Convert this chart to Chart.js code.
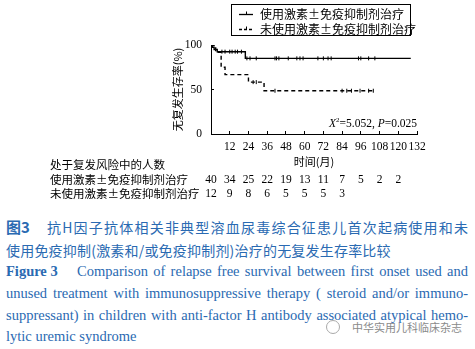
<!DOCTYPE html>
<html>
<head>
<meta charset="utf-8">
<script src="https://cdn.jsdelivr.net/npm/chart.js@4.4.0/dist/chart.umd.min.js"></script>
<style>
  body { margin: 0; width: 475px; height: 349px; background: #fff; overflow: hidden; position: relative; }
  #wrap { position: absolute; left: 0; top: 0; width: 475px; height: 205px; }
  .ln { position: absolute; height: 22px; line-height: 22px; white-space: nowrap; color: #2a6ab2; }
  .zh { font-family: "Noto Sans CJK SC", sans-serif; font-size: 14px; }
  .en { font-family: "Liberation Serif", serif; font-size: 14.5px; }
  .just { text-align: justify; text-align-last: justify; }
  .b { font-weight: bold; }
  .wm { position: absolute; left: 326px; top: 318px; font-family: "Noto Sans CJK SC", sans-serif; font-size: 11px; color: #8a8a8a; line-height: 18px; }
  .wm i { display: inline-block; width: 12px; height: 12px; border: 1px solid #aaa; border-radius: 50%; vertical-align: -2px; margin-right: 12px; }
</style>
</head>
<body>
<div id="wrap"><canvas id="grafico-km" width="475" height="205"></canvas></div>

<div class="ln zh b" style="left:6px;top:216px;font-size:15px;">图3</div>
<div class="ln zh just" style="left:47px;top:216px;width:421px;">抗H因子抗体相关非典型溶血尿毒综合征患儿首次起病使用和未</div>
<div class="ln zh" style="left:6px;top:239px;letter-spacing:0.2px;">使用免疫抑制(激素和/或免疫抑制剂)治疗的无复发生存率比较</div>
<div class="ln en b" style="left:6px;top:260px;">Figure 3</div>
<div class="ln en just" style="left:77px;top:260px;width:391px;">Comparison of relapse free survival between first onset used and</div>
<div class="ln en just" style="left:6px;top:282px;width:462px;">unused treatment with immunosuppressive therapy ( steroid and/or immuno-</div>
<div class="ln en just" style="left:6px;top:304px;width:462px;">suppressant) in children with anti-factor H antibody associated atypical hemo-</div>
<div class="ln en" style="left:6px;top:325px;">lytic uremic syndrome</div>
<div class="wm"><i></i>中华实用儿科临床杂志</div>

<script>
const grafico = document.getElementById("grafico-km");

// tempo em meses / sobrevida livre de recidiva (%)
const usadoTempo = [0, 1, 2, 4, 22, 128];
const usadoSobrev = [100, 97.5, 95, 92.5, 85, 85];
const naoUsadoTempo = [0, 3, 6.5, 9, 24, 34, 104];
const naoUsadoSobrev = [100, 91.7, 75, 66.7, 58.3, 48.6, 48.6];

// censuras
const usadoCensTempo = [7, 9, 12, 13.5, 15.5, 17, 19.5, 23, 25, 29, 41, 42, 43.5, 49.5, 55, 57, 59, 68.5, 72, 75, 77, 94.5, 96, 101, 105];
const usadoCensSobrev = [92.5, 92.5, 92.5, 92.5, 92.5, 92.5, 92.5, 85, 85, 85, 85, 85, 85, 85, 85, 85, 85, 85, 85, 85, 85, 85, 85, 85, 85];
const naoUsadoCensTempo = [27, 29, 41, 84, 87, 90, 95.5, 101, 104];
const naoUsadoCensSobrev = [58.3, 58.3, 48.6, 48.6, 48.6, 48.6, 48.6, 48.6, 48.6];

// números em risco
const riscoMeses = [0, 12, 24, 36, 48, 60, 72, 84, 96, 108, 120];
const riscoUsado = [40, 34, 25, 22, 19, 13, 11, 7, 5, 2, 2];
const riscoNaoUsado = [12, 9, 8, 6, 5, 5, 5, 3];

const labelUsado = "使用激素±免疫抑制剂治疗";
const labelNaoUsado = "未使用激素±免疫抑制剂治疗";

const pontos = (xs, ys) => xs.map((x, i) => ({ x: x, y: ys[i] }));

const serif = "'Liberation Serif', serif";
const cjk = "'Noto Sans CJK SC', sans-serif";

const extras = {
  id: "extras",
  afterDraw(chart) {
    const ctx = chart.ctx;
    const xs = chart.scales.x;
    ctx.save();
    ctx.fillStyle = "#000";
    ctx.textBaseline = "middle";

    // legenda com moldura
    ctx.strokeStyle = "#000";
    ctx.lineWidth = 1;
    ctx.strokeRect(231.5, 4.5, 179, 31);
    const linhas = [
      { y: 14, dash: [], txt: labelUsado },
      { y: 29, dash: [3, 2], txt: labelNaoUsado },
    ];
    linhas.forEach((l) => {
      ctx.setLineDash(l.dash);
      ctx.lineWidth = 1.3;
      ctx.beginPath();
      ctx.moveTo(239, l.y + 0.5);
      ctx.lineTo(253, l.y + 0.5);
      ctx.stroke();
      ctx.setLineDash([]);
      ctx.lineWidth = 1;
      ctx.beginPath();
      ctx.moveTo(246.5, l.y + 0.5);
      ctx.lineTo(246.5, l.y - 2.5);
      ctx.stroke();
      ctx.font = "12px " + cjk;
      ctx.textAlign = "left";
      ctx.fillText(l.txt, 260, l.y + 0.5);
    });

    // qui-quadrado
    ctx.textAlign = "left";
    let x = 329;
    const y = 124;
    const partes = [
      ["italic 11.5px " + serif, "X", 0],
      ["7px " + serif, "2", -4],
      ["11.5px " + serif, "=5.052, ", 0],
      ["italic 11.5px " + serif, "P", 0],
      ["11.5px " + serif, "=0.025", 0],
    ];
    partes.forEach((p) => {
      ctx.font = p[0];
      ctx.fillText(p[1], x, y + p[2]);
      x += ctx.measureText(p[1]).width;
    });

    // tabela de risco
    ctx.font = "11.5px " + cjk;
    ctx.fillText("处于复发风险中的人数", 50, 165);
    ctx.fillText(labelUsado, 50, 180);
    ctx.fillText(labelNaoUsado, 50, 194);
    ctx.font = "11.5px " + serif;
    ctx.textAlign = "center";
    riscoUsado.forEach((v, i) => ctx.fillText(v, xs.getPixelForValue(riscoMeses[i]), 180));
    riscoNaoUsado.forEach((v, i) => ctx.fillText(v, xs.getPixelForValue(riscoMeses[i]), 194));
    ctx.restore();
  },
};

new Chart(grafico, {
  type: "line",
  data: {
    datasets: [
      {
        label: labelUsado,
        data: pontos(usadoTempo, usadoSobrev),
        borderColor: "#000",
        borderWidth: 1.4,
        stepped: true,
        pointRadius: 0,
      },
      {
        label: labelNaoUsado,
        data: pontos(naoUsadoTempo, naoUsadoSobrev),
        borderColor: "#000",
        borderWidth: 1.4,
        borderDash: [4, 3],
        stepped: true,
        pointRadius: 0,
      },
      {
        label: "censura usado",
        data: pontos(usadoCensTempo, usadoCensSobrev),
        showLine: false,
        pointStyle: "line",
        rotation: 90,
        pointRadius: 2,
        borderColor: "#000",
        borderWidth: 1,
      },
      {
        label: "censura nao usado",
        data: pontos(naoUsadoCensTempo, naoUsadoCensSobrev),
        showLine: false,
        pointStyle: "line",
        rotation: 90,
        pointRadius: 2,
        borderColor: "#000",
        borderWidth: 1,
      },
    ],
  },
  options: {
    responsive: false,
    animation: false,
    layout: { padding: { left: 165, right: 58, top: 45, bottom: 33 } },
    plugins: {
      legend: { display: false },
      tooltip: { enabled: false },
    },
    scales: {
      x: {
        type: "linear",
        min: 0,
        max: 132,
        afterFit: (s) => { s.height = 38; },
        ticks: {
          stepSize: 12,
          autoSkip: false,
          padding: 9,
          color: "#000",
          maxRotation: 0,
          font: { family: "Liberation Serif", size: 11.5 },
          callback: (v) => (v === 0 ? "" : v),
        },
        grid: { drawOnChartArea: false, tickLength: -3, color: "#000" },
        border: { color: "#000", width: 1 },
        title: {
          display: true,
          text: "时间(月)",
          color: "#000",
          font: { family: "Noto Sans CJK SC", size: 11 },
        },
      },
      y: {
        min: 0,
        max: 100,
        afterFit: (s) => { s.width = 46; },
        ticks: {
          stepSize: 50,
          autoSkip: false,
          padding: 12,
          color: "#000",
          font: { family: "Liberation Serif", size: 11.5 },
        },
        grid: { drawOnChartArea: false, tickLength: -3, color: "#000" },
        border: { color: "#000", width: 1 },
        title: {
          display: true,
          text: "无复发生存率(%)",
          color: "#000",
          padding: { top: 6, bottom: 4 },
          font: { family: "Noto Sans CJK SC", size: 11 },
        },
      },
    },
  },
  plugins: [extras],
});
</script>
</body>
</html>
